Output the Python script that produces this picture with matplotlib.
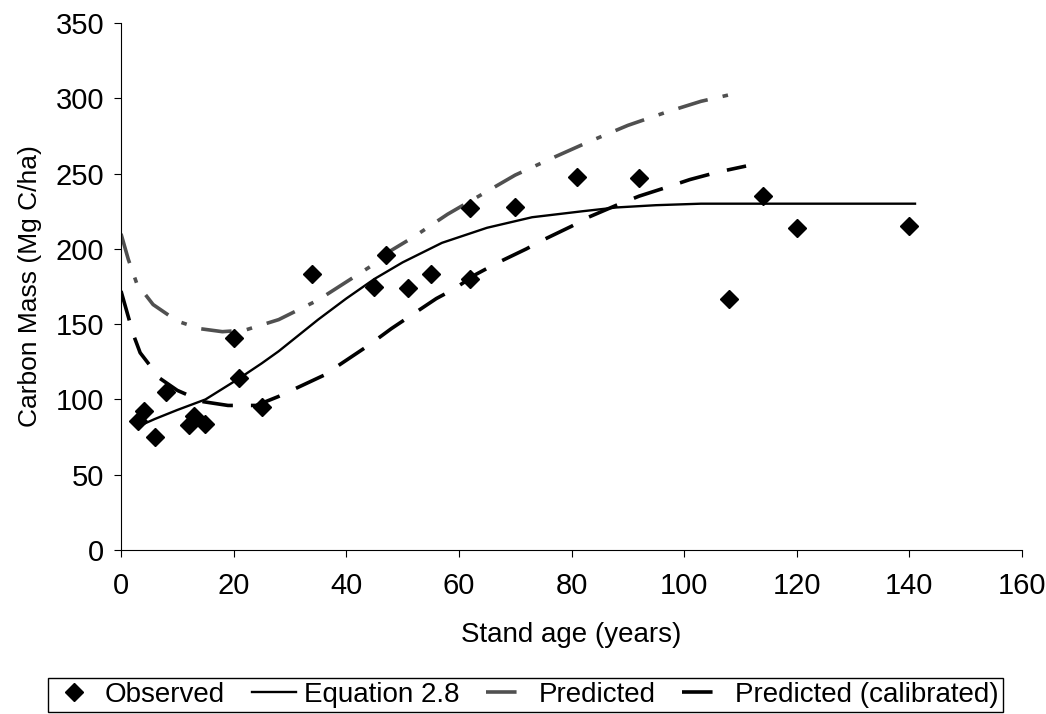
#Plot carbon mass vs stand age: observed plots, Eq 2.8 fit and model predictions

import matplotlib.pyplot as plt
import numpy as np

plt.rcParams['font.family'] = ['Liberation Sans', 'DejaVu Sans']
plt.rcParams['lines.scale_dashes'] = False

# observed stands
obs_age = [3, 4, 6, 8, 12, 13, 15, 20, 21, 25, 34, 45, 47, 51, 55, 62, 62, 70, 81, 92, 108, 114, 120, 140]
obs_c = [86, 92, 75, 105, 83, 89, 84, 141, 114, 95, 183, 175, 196, 174, 183, 227, 180, 228, 248, 247, 167, 235, 214, 215]

# equation 2.8
eq_age = [3, 6, 10, 15, 21, 25, 28, 31, 35, 40, 45, 50, 57, 65, 73, 82, 88, 95, 103, 115, 130, 141]
eq_c = [82, 87, 93, 100, 114, 124, 132, 141, 153, 167, 180, 191, 204, 214, 221, 225, 227.5, 229, 230, 230, 230, 230]

# model prediction
pred_age = [0, 1.3, 2.8, 5.7, 10, 14, 18, 22, 28, 35, 40, 45, 48, 52, 58, 64, 70, 77, 83, 90, 97, 103, 110]
pred_c = [210, 193, 177, 163, 152, 147, 145, 146, 153, 166, 178, 190, 199, 208, 223, 236, 249, 261, 271, 282, 291, 298, 304]

# model prediction, calibrated
cal_age = [0, 2.2, 3.4, 6.9, 10, 14.6, 19, 24, 28, 32, 36, 40, 44, 48, 52, 56, 59, 63, 67, 72, 75, 80, 83, 88, 92, 97, 101, 106, 111]
cal_c = [172, 143, 131, 114, 106, 98.5, 96, 96, 102, 109, 116, 126, 136, 147, 157, 167, 173, 183, 191, 200, 206, 215, 221, 229, 235, 241, 246, 251, 255]

fig = plt.figure(figsize=(10.46, 7.14), dpi=100)
ax = fig.add_axes([121/1046, 1-550/714, 901/1046, 527/714])

ax.plot(obs_age, obs_c, linestyle='none', marker='D', markersize=9, color='black', label='Observed', zorder=5)
ax.plot(eq_age, eq_c, color='black', linewidth=1.7, label='Equation 2.8')
ax.plot(pred_age, pred_c, color='#505050', linewidth=2.6, dashes=(22, 11, 4, 11), label='Predicted')
ax.plot(cal_age, cal_c, color='black', linewidth=2.6, dashes=(22, 13), label='Predicted (calibrated)')

ax.set_xlim(0, 160)
ax.set_ylim(0, 350)
ax.set_xticks(np.arange(0, 161, 20))
ax.set_yticks(np.arange(0, 351, 50))
ax.spines['top'].set_visible(False)
ax.spines['right'].set_visible(False)
ax.tick_params(direction='out', length=5, width=0.8, labelsize=21)
ax.tick_params(axis='x', pad=11)
ax.tick_params(axis='y', pad=7)
ax.set_xlabel('Stand age (years)', fontsize=20, labelpad=16)
ax.set_ylabel('Carbon Mass (Mg C/ha)', fontsize=19, labelpad=10)

# short handles so each dashed line shows a single dash
fig.legend(loc='lower left', bbox_to_anchor=(48/1046, 2/714, 955/1046, 39/714), mode='expand',
           ncol=4, fontsize=20, fancybox=False, edgecolor='black', framealpha=1,
           borderaxespad=0, handlelength=1.6, handletextpad=0.3, borderpad=0.15,
           columnspacing=0.4)

plt.savefig('out.png', dpi=100)
